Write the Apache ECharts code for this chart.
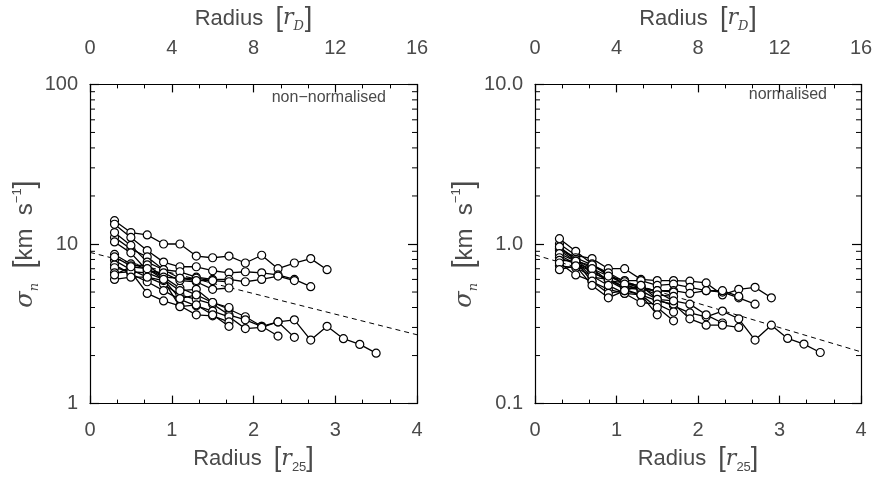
<!DOCTYPE html>
<html>
<head>
<meta charset="utf-8">
<script src="https://cdn.jsdelivr.net/npm/echarts@6/dist/echarts.min.js"></script>
<style>
html,body{margin:0;padding:0;background:#fff;}
#c{width:880px;height:479px;}
</style>
</head>
<body>
<div id="c"></div>
<script>
// Radii (in r25) at which profiles are sampled
const radii = [0.3, 0.5, 0.7, 0.9, 1.1, 1.3, 1.5, 1.7, 1.9, 2.1, 2.3, 2.5, 2.7, 2.9, 3.1, 3.3, 3.5];

// Left panel: non-normalised sigma_n (km/s)
const rawA = [14.0, 11.8, 11.4, 10.0, 10.0, 8.4, 8.2, 8.4, 7.6, 8.5, 7.0, 7.6, 8.1, 6.9];
const rawB = [13.3, 11.0, 9.1, 7.7, 7.2, 7.2, 6.8, 6.6, 6.7, 6.6, 6.4, 6.0, 5.4];
const rawC = [11.0, 9.3, 8.3, 6.9, 6.7, 6.2, 6.0, 6.0, 5.8, 6.0, 6.3, 5.9];
const rawD = [8.6, 7.5, 7.0, 6.2, 5.3, 4.8, 4.3, 3.9, 3.5, 3.05, 3.25, 3.35, 2.5, 3.05, 2.55, 2.35, 2.07];
const rawE = [7.9, 6.9, 6.2, 5.6, 4.8, 4.5, 4.2, 3.6, 3.35, 3.05, 2.65];
const rawF = [7.4, 6.5, 5.8, 5.1, 4.5, 4.1, 3.8, 3.5, 2.95, 3.0, 3.25, 2.6];
const rawG = [11.8, 9.8, 7.7, 6.9, 6.1, 6.1, 5.9, 5.8];
const rawH = [10.3, 8.8, 6.8, 6.6, 5.9, 5.8, 5.2, 5.3];
const rawI = [7.1, 6.7, 6.6, 6.0, 5.1, 5.2, 4.3, 4.0];
const rawJ = [6.6, 6.7, 4.9, 4.4, 4.1, 3.6, 3.55, 3.25];
const rawK = [6.0, 6.2, 6.2, 5.9, 4.05, 4.15, 3.6, 3.05];
const rawL = [8.3, 7.3, 7.4, 6.2, 6.1, 5.9, 5.9];
const rawM = [6.4, 7.2, 7.0, 6.0, 4.55, 4.8];
const rawFit = [[0, 8.86], [4, 2.70]];

// Right panel: normalised sigma_n
const normA = [1.0, 0.85, 0.81, 0.70, 0.70, 0.60, 0.59, 0.59, 0.585, 0.57, 0.48, 0.52, 0.535, 0.46];
const normB = [1.08, 0.90, 0.75, 0.63, 0.59, 0.59, 0.55, 0.56, 0.535, 0.51, 0.50, 0.46, 0.42];
const normC = [0.93, 0.80, 0.70, 0.59, 0.57, 0.53, 0.51, 0.51, 0.49, 0.51, 0.51, 0.47];
const normD = [0.91, 0.78, 0.73, 0.65, 0.56, 0.51, 0.45, 0.41, 0.37, 0.35, 0.38, 0.34, 0.25, 0.31, 0.256, 0.236, 0.209];
const normE = [0.94, 0.82, 0.74, 0.66, 0.58, 0.54, 0.50, 0.44, 0.42, 0.36, 0.32];
const normF = [0.85, 0.75, 0.67, 0.59, 0.52, 0.48, 0.44, 0.42, 0.34, 0.31, 0.31, 0.30];
const normG = [0.96, 0.80, 0.66, 0.60, 0.53, 0.52, 0.51, 0.50];
const normH = [0.87, 0.78, 0.62, 0.60, 0.54, 0.53, 0.48, 0.47];
const normI = [0.82, 0.75, 0.70, 0.63, 0.56, 0.55, 0.45, 0.44];
const normJ = [0.79, 0.78, 0.58, 0.52, 0.49, 0.43, 0.42, 0.375];
const normK = [0.73, 0.71, 0.63, 0.55, 0.49, 0.48, 0.40, 0.33];
const normL = [0.76, 0.64, 0.585, 0.49, 0.51, 0.48, 0.36];
const normM = [0.69, 0.73, 0.55, 0.46, 0.51, 0.55];
const normFit = [[0, 0.855], [4, 0.211]];

// Tick values
const leftMinor = [2, 3, 4, 5, 6, 7, 8, 9, 20, 30, 40, 50, 60, 70, 80, 90];
const rightMinor = [0.2, 0.3, 0.4, 0.5, 0.6, 0.7, 0.8, 0.9, 2, 3, 4, 5, 6, 7, 8, 9];

const rawLines = [rawA, rawB, rawC, rawD, rawE, rawF, rawG, rawH, rawI, rawJ, rawK, rawL, rawM];
const normLines = [normA, normB, normC, normD, normE, normF, normG, normH, normI, normJ, normK, normL, normM];

const FONT = 'Liberation Sans';
const TXT = '#4a4a4a';

const rich = {
  t: {fontSize: 22, fontFamily: FONT, color: TXT, lineHeight: 30},
  b: {fontSize: 27, fontFamily: FONT, color: TXT, lineHeight: 30},
  i: {fontSize: 22, fontFamily: 'DejaVu Serif', fontStyle: 'italic', color: TXT, lineHeight: 30},
  s: {fontSize: 13, fontFamily: 'DejaVu Serif', fontStyle: 'italic', color: TXT, verticalAlign: 'bottom', lineHeight: 13, padding: [0, 1, 0, 0]},
  sn: {fontSize: 13, fontFamily: FONT, color: TXT, verticalAlign: 'bottom', lineHeight: 13},
  p: {fontSize: 13, fontFamily: FONT, color: TXT, verticalAlign: 'top', lineHeight: 13}
};
const richY = Object.assign({}, rich, {
  t: {fontSize: 24, fontFamily: FONT, color: TXT, lineHeight: 30},
  b: {fontSize: 29, fontFamily: FONT, color: TXT, lineHeight: 30},
  i: {fontSize: 24, fontFamily: 'DejaVu Serif', fontStyle: 'italic', color: TXT, lineHeight: 30}
});

const grids = [
  {left: 90, top: 66, width: 327, height: 343},
  {left: 535, top: 66, width: 326, height: 341}
];

function xAxes(gi) {
  const base = {
    gridIndex: gi, type: 'value', min: 0,
    axisLine: {show: true, onZero: false, lineStyle: {color: '#000', width: 1.2}},
    axisTick: {show: true, inside: true, length: 8, lineStyle: {color: '#000', width: 1.2}},
    minorTick: {show: true, splitNumber: 3, length: 4, lineStyle: {color: '#000', width: 1}},
    splitLine: {show: false},
    axisLabel: {fontSize: 20, fontFamily: FONT, color: TXT, margin: 17},
    nameLocation: 'middle', nameTextStyle: {rich: rich}
  };
  return [
    Object.assign({}, base, {position: 'bottom', max: 4, interval: 1, name: '{t|Radius  }{b|[}{i|r}{sn|25}{b|]}', nameGap: 35}),
    Object.assign({}, base, {position: 'top', max: 16, interval: 4, name: '{t|Radius  }{b|[}{i|r}{s|D}{b|]}', nameGap: 37,
      axisLabel: {fontSize: 20, fontFamily: FONT, color: TXT, margin: 26}})
  ];
}

function yAxes(gi, min, max, fmt) {
  const base = {
    gridIndex: gi, type: 'log', logBase: 10, min: min, max: max,
    axisLine: {show: true, onZero: false, lineStyle: {color: '#000', width: 1.2}},
    axisTick: {show: true, inside: true, length: 9, lineStyle: {color: '#000', width: 1.2}},
    splitLine: {show: false}
  };
  return [
    Object.assign({}, base, {position: 'left',
      axisLabel: {fontSize: 20, fontFamily: FONT, color: TXT, margin: 12, formatter: fmt},
      name: '{i|σ}{s|n}{t|  }{b|[}{t|km  s}{p|−1}{b|]}', nameLocation: 'middle', nameGap: 42, nameRotate: 90,
      nameTextStyle: {rich: richY}}),
    Object.assign({}, base, {position: 'right', axisLabel: {show: false}})
  ];
}

const xAxis = [].concat(xAxes(0), xAxes(1));
const yAxis = [].concat(
  yAxes(0, 1, 100, v => String(Math.round(v))),
  yAxes(1, 0.1, 10, v => (+v).toFixed(1))
);

function lineSeries(vals, xi, yi) {
  return {
    type: 'line', xAxisIndex: xi, yAxisIndex: yi,
    data: vals.map((v, i) => [radii[i], v]),
    symbol: 'circle', symbolSize: 8, showAllSymbol: true,
    lineStyle: {color: '#000', width: 1.3},
    itemStyle: {color: '#fff', borderColor: '#000', borderWidth: 1.2},
    animation: false, silent: true, z: 3
  };
}

function fitSeries(pts, xi, yi) {
  return {
    type: 'line', xAxisIndex: xi, yAxisIndex: yi, data: pts,
    symbol: 'none', lineStyle: {color: '#000', width: 1, type: [5, 4]},
    animation: false, silent: true, z: 2
  };
}

function minorTickSeries(vals, xi, yi) {
  return {
    type: 'custom', xAxisIndex: xi, yAxisIndex: yi,
    data: vals.map(v => [0, v]),
    renderItem: function (params, api) {
      const v = api.value(1);
      const a = api.coord([0, v]);
      const b = api.coord([4, v]);
      return {type: 'group', children: [
        {type: 'line', shape: {x1: a[0], y1: a[1], x2: a[0] + 5, y2: a[1]}, style: {stroke: '#000', lineWidth: 1}},
        {type: 'line', shape: {x1: b[0] - 5, y1: b[1], x2: b[0], y2: b[1]}, style: {stroke: '#000', lineWidth: 1}}
      ]};
    },
    animation: false, silent: true, clip: false, z: 1
  };
}

const series = [];
series.push(minorTickSeries(leftMinor, 0, 0));
series.push(minorTickSeries(rightMinor, 2, 2));
series.push(fitSeries(rawFit, 0, 0));
series.push(fitSeries(normFit, 2, 2));
rawLines.forEach(l => series.push(lineSeries(l, 0, 0)));
normLines.forEach(l => series.push(lineSeries(l, 2, 2)));

const chart = echarts.init(document.getElementById('c'), null, {renderer: 'canvas'});
chart.setOption({
  backgroundColor: '#fff',
  animation: false,
  grid: grids,
  xAxis: xAxis,
  yAxis: yAxis,
  series: series,
  graphic: [
    {type: 'text', right: 880 - 386, top: 90, style: {text: 'non−normalised', fontSize: 16, fontFamily: FONT, fill: TXT}},
    {type: 'text', right: 880 - 827, top: 87, style: {text: 'normalised', fontSize: 16, fontFamily: FONT, fill: TXT}}
  ]
});
</script>
</body>
</html>
